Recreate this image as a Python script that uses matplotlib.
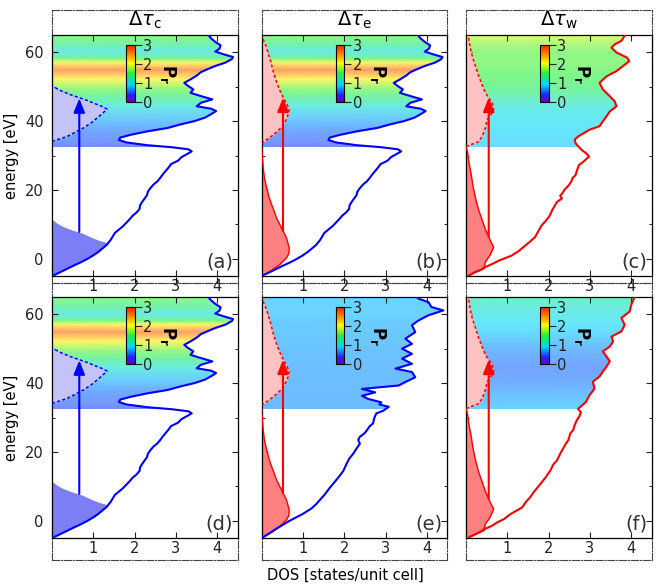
import numpy as np
import matplotlib
matplotlib.use('Agg')
import matplotlib.pyplot as plt
import matplotlib.cm as cm
from matplotlib.colors import ListedColormap, LinearSegmentedColormap, Normalize
from matplotlib.patches import Polygon

# ---- total DOS, blue (panels a, b, d)
E_tot = [-5.0, -4.0, -3.0, -2.0, -1.0, 0.0, 1.0, 2.0, 3.0, 4.0, 4.6, 5.5, 6.5, 7.5, 8.5, 9.5,
         10.5, 11.5, 12.5, 13.5, 14.5, 15.5, 16.5, 17.5, 18.5, 19.5, 20.5, 21.5, 22.5, 23.5,
         24.5, 25.5, 26.5, 27.5, 28.5, 29.5, 30.5, 31.2, 31.8, 32.4, 33.0, 33.8, 34.5, 35.2,
         36.0, 37.0, 38.0, 39.0, 40.0, 41.0, 42.0, 42.9, 43.6, 44.3, 45.3, 46.3, 47.2, 48.2,
         49.2, 50.3, 51.1, 52.1, 53.2, 54.2, 55.0, 56.0, 57.0, 58.0, 58.6, 59.4, 60.2, 61.0,
         62.0, 63.0, 64.0, 65.0]
dos_tot = [0.0, 0.18, 0.35, 0.52, 0.70, 0.86, 1.0, 1.12, 1.22, 1.32, 1.36, 1.42, 1.47, 1.52, 1.62, 1.72,
           1.80, 1.88, 1.95, 2.05, 2.12, 2.13, 2.18, 2.24, 2.30, 2.32, 2.38, 2.45, 2.55, 2.62,
           2.68, 2.75, 2.82, 2.88, 3.05, 3.13, 3.28, 3.38, 3.30, 2.90, 2.30, 1.80, 1.62, 1.65,
           1.90, 2.30, 2.80, 3.10, 3.45, 3.70, 3.85, 3.97, 3.85, 3.50, 3.60, 3.88, 3.62, 3.35,
           3.42, 3.28, 3.20, 3.35, 3.50, 3.60, 3.75, 3.95, 4.20, 4.35, 4.38, 4.15, 3.95, 4.05,
           4.08, 3.95, 3.85, 3.78]

# ---- total DOS, blue (panel e)
E_tot_e = [-5.0, -4.3, -2.0, 0.0, 2.0, 3.5, 4.9, 5.9, 7.5, 9.7, 11.0, 12.6, 14.5, 16.6, 18.0, 19.5,
           21.0, 22.4, 23.5, 24.4, 25.5, 26.3, 27.5, 28.3, 29.5, 30.5, 31.2, 32.0, 33.1, 33.8,
           34.4, 35.4, 36.3, 37.3, 38.3, 39.3, 40.3, 41.7, 43.2, 44.2, 45.6, 47.1, 48.5, 50.0,
           51.4, 52.9, 54.8, 56.8, 58.2, 59.7, 61.1, 62.1, 63.5, 64.5, 65.0]
dos_tot_e = [0.0, 0.10, 0.40, 0.68, 1.0, 1.20, 1.33, 1.40, 1.52, 1.66, 1.75, 1.86, 1.98, 2.06, 2.12, 2.22,
             2.30, 2.38, 2.34, 2.38, 2.50, 2.55, 2.62, 2.70, 2.72, 2.75, 2.78, 2.95, 3.08, 2.85,
             2.90, 2.58, 2.43, 2.75, 2.43, 3.32, 3.48, 3.72, 3.64, 3.24, 3.64, 3.40, 3.64, 3.40,
             3.64, 3.48, 3.72, 3.64, 3.80, 4.04, 4.40, 4.11, 4.04, 3.80, 3.75]

# ---- DOS, red (panel c)
E_red_c = [-5.3, -4.0, -3.2, -2.5, -1.8, -1.3, -0.5, 0.9, 2.3, 3.8, 5.0, 6.3, 8.0, 9.7, 11.0, 12.6,
           14.0, 15.5, 16.5, 17.5, 18.3, 19.0, 20.0, 21.4, 22.5, 23.5, 24.3, 25.5, 27.2, 28.3,
           29.2, 29.7, 30.5, 31.6, 32.6, 33.6, 34.6, 35.5, 36.5, 37.5, 38.5, 39.9, 41.4, 42.8,
           44.3, 45.7, 47.2, 49.2, 51.1, 53.0, 54.5, 56.0, 57.4, 58.4, 59.9, 61.3, 62.3, 63.3, 64.8]
dos_red_c = [0.0, 0.20, 0.36, 0.45, 0.58, 0.67, 0.80, 1.10, 1.28, 1.43, 1.55, 1.67, 1.75, 1.83, 1.93, 2.03,
             2.08, 2.15, 2.20, 2.32, 2.28, 2.33, 2.38, 2.49, 2.55, 2.58, 2.65, 2.68, 2.73, 2.85,
             2.93, 2.98, 2.92, 2.80, 2.72, 2.65, 2.63, 2.71, 2.85, 2.99, 3.23, 3.31, 3.40, 3.48,
             3.64, 3.60, 3.48, 3.31, 3.23, 3.40, 3.64, 3.80, 3.95, 3.90, 3.64, 3.52, 3.60, 3.76, 3.84]

# ---- DOS, red (panel f)
E_red_f = [-5.2, -3.5, -2.4, -1.5, -0.5, 0.5, 1.9, 3.9, 5.5, 6.8, 8.5, 10.7, 12.5, 14.6, 16.5, 17.5,
           19.5, 21.0, 22.5, 23.5, 25.3, 26.5, 27.5, 29.2, 30.5, 31.5, 32.5, 34.5, 36.5, 38.4,
           40.4, 41.9, 43.3, 44.8, 46.3, 47.7, 49.2, 50.6, 52.1, 53.5, 55.0, 56.9, 58.9, 60.8,
           62.8, 64.7]
dos_red_f = [0.0, 0.30, 0.45, 0.62, 0.75, 0.92, 1.07, 1.36, 1.45, 1.55, 1.65, 1.80, 1.92, 2.04, 2.12, 2.20,
             2.28, 2.35, 2.42, 2.48, 2.52, 2.60, 2.62, 2.68, 2.75, 2.78, 2.71, 2.90, 2.99, 3.11,
             3.07, 3.23, 3.31, 3.40, 3.48, 3.40, 3.31, 3.48, 3.56, 3.52, 3.76, 3.84, 3.76, 3.96,
             4.00, 4.07]

# ---- occupied distributions (filled)
E_occ_blue = [-5.0, -4.0, -3.0, -2.0, -1.0, 0.0, 1.0, 2.0, 3.0, 4.0, 4.6, 5.5, 6.5, 7.5, 8.5, 9.5, 10.5, 11.5]
occ_blue = [0.0, 0.18, 0.35, 0.52, 0.70, 0.86, 1.0, 1.12, 1.22, 1.32, 1.35, 1.10, 0.90, 0.72, 0.45, 0.24, 0.10, 0.0]

E_occ_red_b = [-5.0, -3.7, -1.7, 0.2, 1.5, 3.2, 4.5, 6.2, 8.1, 10.0, 12.0, 14.0, 15.9, 18.0, 20.8, 23.5, 26.6, 29.5, 32.5]
occ_red_b = [0.0, 0.20, 0.44, 0.60, 0.66, 0.67, 0.64, 0.60, 0.52, 0.44, 0.36, 0.30, 0.24, 0.18, 0.12, 0.07, 0.04, 0.02, 0.0]

E_occ_red_c = [-5.3, -4.0, -2.9, -0.9, 1.0, 3.4, 5.0, 6.4, 8.5, 11.3, 14.0, 17.1, 21.0, 24.9, 28.0, 30.8, 32.7]
occ_red_c = [0.0, 0.20, 0.43, 0.47, 0.58, 0.67, 0.60, 0.55, 0.47, 0.39, 0.31, 0.24, 0.17, 0.12, 0.07, 0.04, 0.0]

# ---- excited distributions (dashed)
E_exc_blue = [34.1, 35.5, 37.0, 38.0, 39.5, 40.9, 42.2, 43.5, 44.3, 45.2, 46.0, 46.7, 47.7, 48.8, 50.2]
exc_blue = [0.0, 0.36, 0.60, 0.76, 0.95, 1.09, 1.22, 1.33, 1.20, 1.01, 0.85, 0.68, 0.44, 0.22, 0.0]

E_exc_red_b = [33.5, 35.5, 37.0, 38.5, 40.5, 42.0, 43.4, 44.8, 46.3, 48.2, 50.5, 53.0, 55.0, 57.0, 59.5, 62.0, 64.8]
exc_red_b = [0.0, 0.23, 0.38, 0.51, 0.60, 0.65, 0.67, 0.62, 0.55, 0.47, 0.39, 0.32, 0.27, 0.23, 0.17, 0.10, 0.0]

E_exc_red_c = [32.6, 34.0, 35.5, 38.0, 40.4, 41.8, 43.3, 45.3, 48.2, 50.5, 53.0, 56.0, 58.9, 61.5, 63.8, 65.0]
exc_red_c = [0.0, 0.30, 0.39, 0.47, 0.51, 0.60, 0.67, 0.63, 0.47, 0.39, 0.31, 0.23, 0.15, 0.10, 0.07, 0.05]

# ---- P_r(E) in the unoccupied band
E_P = [32.6, 33.6, 37.5, 40.4, 44.4, 47.0, 49.3, 52.2, 54.9, 57.0, 58.2, 60.0, 62.4, 65.0]
P_a = [0.45, 0.5, 0.6, 0.75, 1.05, 1.35, 1.6, 2.1, 2.7, 2.1, 1.5, 1.0, 1.35, 1.6]
P_c = [0.85, 0.85, 0.9, 0.95, 1.05, 1.25, 1.4, 1.5, 1.55, 1.6, 1.6, 1.6, 1.7, 1.9]
P_e = [0.68, 0.68, 0.7, 0.7, 0.7, 0.72, 0.72, 0.74, 0.75, 0.76, 0.78, 0.8, 0.8, 0.82]
P_f = [0.8, 0.78, 0.7, 0.62, 0.58, 0.62, 0.66, 0.75, 0.85, 0.9, 0.95, 1.0, 1.1, 1.2]

band_bottom = 32.6
titles = [r'$\Delta\tau_\mathrm{c}$', r'$\Delta\tau_\mathrm{e}$', r'$\Delta\tau_\mathrm{w}$']
labels = ['(a)', '(b)', '(c)', '(d)', '(e)', '(f)']

blue, red = '#0000ff', '#ff0000'
panels = [
    dict(dos=(E_tot, dos_tot), line=blue, occ=(E_occ_blue, occ_blue), occ_c='#7d7df6', occ_edge=None,
         exc=(E_exc_blue, exc_blue), exc_c='#c3c3f7', P=P_a, arrow=(0.66, 7.8, 46.6, blue)),
    dict(dos=(E_tot, dos_tot), line=blue, occ=(E_occ_red_b, occ_red_b), occ_c='#ff8080', occ_edge=red,
         exc=(E_exc_red_b, exc_red_b), exc_c='#ffc2c2', P=P_a, arrow=(0.52, 8.1, 46.8, red)),
    dict(dos=(E_red_c, dos_red_c), line=red, occ=(E_occ_red_c, occ_red_c), occ_c='#ff8080', occ_edge=red,
         exc=(E_exc_red_c, exc_red_c), exc_c='#ffc2c2', P=P_c, arrow=(0.55, 6.4, 46.8, red)),
    dict(dos=(E_tot, dos_tot), line=blue, occ=(E_occ_blue, occ_blue), occ_c='#7d7df6', occ_edge=None,
         exc=(E_exc_blue, exc_blue), exc_c='#c3c3f7', P=P_a, arrow=(0.66, 7.8, 46.6, blue)),
    dict(dos=(E_tot_e, dos_tot_e), line=blue, occ=(E_occ_red_b, occ_red_b), occ_c='#ff8080', occ_edge=red,
         exc=(E_exc_red_b, exc_red_b), exc_c='#ffc2c2', P=P_e, arrow=(0.52, 8.1, 46.8, red)),
    dict(dos=(E_red_f, dos_red_f), line=red, occ=(E_occ_red_c, occ_red_c), occ_c='#ff8080', occ_edge=red,
         exc=(E_exc_red_c, exc_red_c), exc_c='#ffc2c2', P=P_f, arrow=(0.55, 6.4, 46.8, red)),
]

plt.rcParams['font.family'] = 'DejaVu Sans'
plt.rcParams['mathtext.fontset'] = 'dejavusans'

W, H = 657.0, 586.0
fig = plt.figure(figsize=(6.57, 5.86), dpi=100)

# purple -> blue -> cyan -> green -> yellow -> red
pr_cmap = LinearSegmentedColormap.from_list('pr', [
    (0.0, '#6a00c8'), (0.12, '#2020ff'), (0.30, '#00d8ff'), (0.50, '#20f040'),
    (0.68, '#ffff00'), (0.85, '#ff8000'), (1.0, '#ff2000')])
base = pr_cmap(np.linspace(0, 1, 256))
pale = base.copy()
pale[:, :3] = base[:, :3] * 0.6 + 0.4
pale_cmap = ListedColormap(pale)
norm = Normalize(0, 3)

col_left = [52, 261.5, 466]
col_w = 186
inner_rows = [(35, 276), (297, 538)]
outer_rows = [(10, 283), (283, 560)]

for i, p in enumerate(panels):
    r, c = divmod(i, 3)
    l = col_left[c]
    ot, ob = outer_rows[r]
    it, ib = inner_rows[r]

    axo = fig.add_axes([l / W, 1 - ob / H, col_w / W, (ob - ot) / H])
    axo.patch.set_visible(False)
    axo.set_xlim(0, 4.5)
    axo.set_yticks([])
    for s in axo.spines.values():
        s.set_linestyle('-.')
        s.set_linewidth(0.8)
        s.set_color('#444444')
    if r == 0:
        axo.set_xticks([1, 2, 3, 4])
        axo.tick_params(axis='x', direction='in', length=4, labelbottom=False)
        axo.text(0.5, 1 - 10.0 / (ob - ot), titles[c], transform=axo.transAxes,
                 ha='center', va='center', fontsize=14)
    else:
        axo.set_xticks([])
    axo.set_zorder(0)

    ax = fig.add_axes([l / W, 1 - ib / H, col_w / W, (ib - it) / H])
    ax.set_zorder(1)
    ax.set_xlim(0, 4.5)
    ax.set_ylim(-5, 65)

    E, D = np.array(p['dos'][0]), np.array(p['dos'][1])

    # coloured unoccupied band, clipped under the DOS curve
    d_lo = np.interp(band_bottom, E, D)
    d_hi = np.interp(65, E, D)
    sel = E > band_bottom
    verts = [(0, band_bottom), (d_lo, band_bottom)] + list(zip(D[sel], E[sel])) + [(d_hi, 65), (0, 65)]
    clip = Polygon(verts, closed=True, facecolor='none', edgecolor='none', transform=ax.transData)
    ax.add_patch(clip)
    Pn = np.array(p['P'])
    X = np.array([[0.0, 4.5]] * len(E_P))
    Y = np.array([[e, e] for e in E_P])
    C = np.column_stack([Pn, Pn])
    mesh = ax.pcolormesh(X, Y, C, shading='gouraud', cmap=pale_cmap, norm=norm, zorder=1)
    mesh.set_clip_path(clip)

    # excited distribution
    Ex, Dx = p['exc']
    ax.fill_betweenx(Ex, 0, Dx, color=p['exc_c'], lw=0, zorder=2)
    ax.plot(Dx, Ex, color=p['arrow'][3], lw=1.1, ls=(0, (2, 1.5)), zorder=3)

    # occupied distribution
    Eo, Do = p['occ']
    ax.fill_betweenx(Eo, 0, Do, color=p['occ_c'], lw=0, zorder=2)
    if p['occ_edge']:
        ax.plot(Do, Eo, color=p['occ_edge'], lw=1.0, zorder=3)

    ax.plot(D, E, color=p['line'], lw=1.5, zorder=4)

    xa, e0, e1, ac = p['arrow']
    ax.annotate('', xy=(xa, e1), xytext=(xa, e0),
                arrowprops=dict(arrowstyle='-|>,head_length=0.7,head_width=0.28', color=ac,
                                lw=1.5, shrinkA=0, shrinkB=0, mutation_scale=12), zorder=5)

    ax.set_xticks([1, 2, 3, 4])
    ax.set_yticks([0, 20, 40, 60])
    ax.set_yticks([10, 30, 50], minor=True)
    ax.tick_params(direction='in', top=True, right=True, length=4, width=0.8,
                   labelsize=10.5, colors='#222222', pad=3)
    ax.tick_params(which='minor', direction='in', right=True, length=2, width=0.6)
    ax.tick_params(axis='y', pad=6, labelleft=(c == 0))
    if r == 0:
        ax.tick_params(axis='x', labelbottom=False)
    else:
        ax.tick_params(axis='x', labeltop=True, labelbottom=True, pad=2)
    for s in ax.spines.values():
        s.set_linewidth(0.9)

    ax.text(0.975, 0.02, labels[i], transform=ax.transAxes, ha='right', va='bottom',
            fontsize=14, color='#333333', zorder=6)

    cax = ax.inset_axes([0.40, 0.722, 0.046, 0.236])
    cax.set_zorder(7)
    cb = fig.colorbar(cm.ScalarMappable(norm=norm, cmap=pr_cmap), cax=cax, ticks=[0, 1, 2, 3])
    cb.outline.set_linewidth(0.8)
    cb.ax.tick_params(labelsize=10.5, length=5, width=0.8, pad=1, colors='#222222')
    cb.set_label(r'$\mathbf{P_r}$', rotation=270, fontsize=12, labelpad=4, va='bottom')

fig.text(12 / W, 1 - 155.5 / H, 'energy [eV]', rotation=90, ha='center', va='center', fontsize=10.5)
fig.text(12 / W, 1 - 417.5 / H, 'energy [eV]', rotation=90, ha='center', va='center', fontsize=10.5)
fig.text(345 / W, 1 - 575 / H, 'DOS [states/unit cell]', ha='center', va='center', fontsize=10.5)

fig.savefig('out.png', dpi=100)
